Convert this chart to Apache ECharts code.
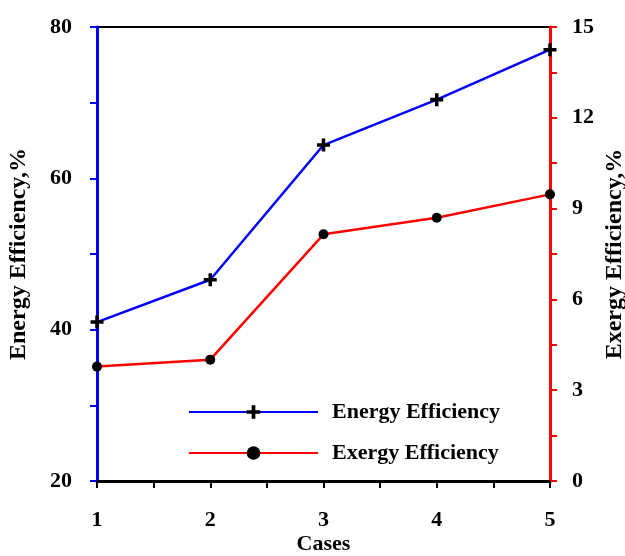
<!DOCTYPE html>
<html>
<head>
<meta charset="utf-8">
<script src="https://cdn.jsdelivr.net/npm/echarts@6/dist/echarts.min.js"></script>
<style>html,body{margin:0;padding:0;background:#fff}#c{width:625px;height:556px}</style>
</head>
<body>
<div id="c"></div>
<script>
const cases = [1, 2, 3, 4, 5];
const energyEfficiency = [41.0, 46.6, 64.4, 70.4, 77.0];
const exergyEfficiency = [3.78, 4.01, 8.15, 8.70, 9.47];
const leftTicks = [20, 40, 60, 80];
const rightTicks = [0, 3, 6, 9, 12, 15];

const FONT = '"Liberation Serif", "Times New Roman", serif';
const plus = 'path://M4,0H7V4H11V7H7V11H4V7H0V4H4Z';

const chart = echarts.init(document.getElementById('c'), null, {renderer: 'canvas'});
chart.setOption({
  animation: false,
  backgroundColor: '#fff',
  grid: {left: 97, right: 75, top: 27, bottom: 75, containLabel: false, outerBoundsMode: 'none',
         show: true, borderColor: '#000', borderWidth: 2, backgroundColor: 'transparent'},
  legend: {
    orient: 'vertical', left: 188, top: 401, padding: 0, itemWidth: 129, itemHeight: 17, itemGap: 19,
    textStyle: {fontFamily: FONT, fontWeight: 'bold', fontSize: 22, color: '#000', padding: [0, 0, 0, 9]},
    data: ['Energy Efficiency', 'Exergy Efficiency']
  },
  xAxis: {
    type: 'value', min: cases[0], max: cases[cases.length - 1], interval: 1,
    name: 'Cases', nameLocation: 'middle', nameGap: 52, nameMoveOverlap: false,
    nameTextStyle: {fontFamily: FONT, fontWeight: 'bold', fontSize: 22, color: '#000'},
    axisLine: {lineStyle: {color: '#000', width: 3}},
    axisTick: {length: 7, lineStyle: {color: '#000', width: 2}},
    minorTick: {show: true, splitNumber: 2, length: 7, lineStyle: {color: '#000', width: 2}},
    splitLine: {show: false},
    axisLabel: {margin: 28, fontFamily: FONT, fontWeight: 'bold', fontSize: 22, color: '#000'}
  },
  yAxis: [{
    type: 'value', min: leftTicks[0], max: leftTicks[leftTicks.length - 1], interval: 20, position: 'left',
    name: 'Energy Efficiency,%', nameLocation: 'middle', nameGap: 66, nameRotate: 90, nameMoveOverlap: false,
    nameTextStyle: {fontFamily: FONT, fontWeight: 'bold', fontSize: 24, color: '#000'},
    axisLine: {show: true, lineStyle: {color: '#0000ff', width: 3}},
    axisTick: {length: 7, lineStyle: {color: '#0000ff', width: 2}},
    minorTick: {show: true, splitNumber: 2, length: 7, lineStyle: {color: '#0000ff', width: 2}},
    splitLine: {show: false},
    axisLabel: {margin: 25, fontFamily: FONT, fontWeight: 'bold', fontSize: 22, color: '#000'}
  }, {
    type: 'value', min: rightTicks[0], max: rightTicks[rightTicks.length - 1], interval: 3, position: 'right',
    name: 'Exergy Efficiency,%', nameLocation: 'middle', nameGap: 53, nameRotate: 90, nameMoveOverlap: false,
    nameTextStyle: {fontFamily: FONT, fontWeight: 'bold', fontSize: 24, color: '#000'},
    axisLine: {show: true, lineStyle: {color: '#ff0000', width: 3}},
    axisTick: {length: 7, lineStyle: {color: '#ff0000', width: 2}},
    minorTick: {show: true, splitNumber: 2, length: 7, lineStyle: {color: '#ff0000', width: 2}},
    splitLine: {show: false},
    axisLabel: {margin: 22, fontFamily: FONT, fontWeight: 'bold', fontSize: 22, color: '#000'}
  }],
  series: [{
    name: 'Energy Efficiency', type: 'line', yAxisIndex: 0,
    data: cases.map((c, i) => [c, energyEfficiency[i]]),
    symbol: plus, symbolSize: 13,
    lineStyle: {color: '#0000ff', width: 2.5},
    itemStyle: {color: '#000'}
  }, {
    name: 'Exergy Efficiency', type: 'line', yAxisIndex: 1,
    data: cases.map((c, i) => [c, exergyEfficiency[i]]),
    symbol: 'circle', symbolSize: 10,
    lineStyle: {color: '#ff0000', width: 2.5},
    itemStyle: {color: '#000'}
  }]
});
</script>
</body>
</html>
